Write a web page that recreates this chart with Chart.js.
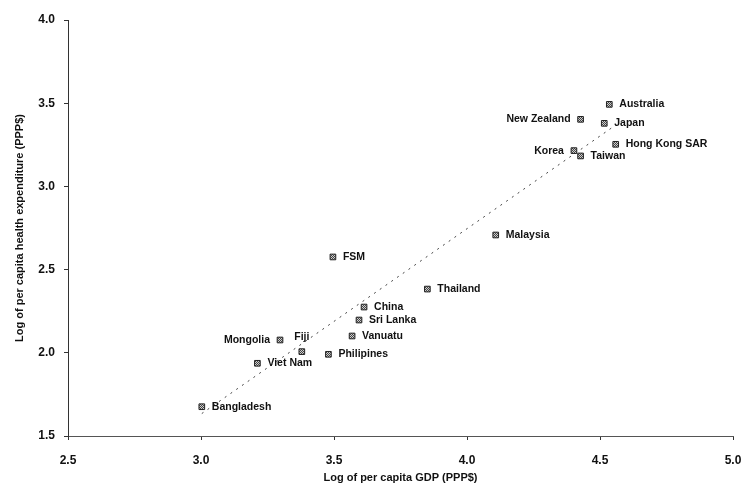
<!DOCTYPE html>
<html>
<head>
<meta charset="utf-8">
<title>Health expenditure vs GDP</title>
<script src="https://cdn.jsdelivr.net/npm/chart.js@4/dist/chart.umd.min.js"></script>
<style>
  html, body { margin: 0; padding: 0; background: #fff; }
  #wrap { width: 743px; height: 491px; }
</style>
</head>
<body>
<div id="wrap"><canvas id="c" width="743" height="491"></canvas></div>
<script>
// Economies plotted (log10 of PPP$ values)
const countries = ['Bangladesh', 'Viet Nam', 'Mongolia', 'Fiji', 'Philipines', 'FSM', 'Vanuatu',
  'Sri Lanka', 'China', 'Thailand', 'Malaysia', 'Korea', 'Taiwan', 'New Zealand', 'Japan',
  'Australia', 'Hong Kong SAR'];
const logGdp = [3.003, 3.212, 3.297, 3.379, 3.479, 3.496, 3.568, 3.594, 3.613, 3.851, 4.108,
  4.402, 4.427, 4.427, 4.516, 4.535, 4.559];
const logHealth = [1.676, 1.937, 2.077, 2.007, 1.991, 2.576, 2.101, 2.197, 2.275, 2.383, 2.708,
  3.215, 3.183, 3.403, 3.379, 3.493, 3.253];
// Where each name sits relative to its marker
const labelSide = ['right', 'right', 'left', 'top', 'right', 'right', 'right', 'right', 'right',
  'right', 'right', 'left', 'right', 'left', 'right', 'right', 'right'];
const xTicks = [2.5, 3.0, 3.5, 4.0, 4.5, 5.0];
const yTicks = [1.5, 2.0, 2.5, 3.0, 3.5, 4.0];

// Least-squares linear trend through the points
function linearFit(xs, ys) {
  const n = xs.length;
  const mx = xs.reduce((a, b) => a + b, 0) / n;
  const my = ys.reduce((a, b) => a + b, 0) / n;
  let sxy = 0, sxx = 0;
  for (let i = 0; i < n; i++) { sxy += (xs[i] - mx) * (ys[i] - my); sxx += (xs[i] - mx) ** 2; }
  const slope = sxy / sxx;
  return { slope, intercept: my - slope * mx };
}
const fit = linearFit(logGdp, logHealth);
const xMin = Math.min(...logGdp), xMax = Math.max(...logGdp);
const trendPoints = [xMin, xMax].map(x => ({ x, y: fit.intercept + fit.slope * x }));

// Small hatched fill for the square markers
function markerPattern() {
  const p = document.createElement('canvas');
  p.width = 2; p.height = 2;
  const g = p.getContext('2d');
  g.fillStyle = '#cfcfcf'; g.fillRect(0, 0, 2, 2);
  g.fillStyle = '#444'; g.fillRect(0, 0, 1, 1); g.fillRect(1, 1, 1, 1);
  return g.createPattern(p, 'repeat');
}

const FONT = '"Liberation Sans", Arial, sans-serif';

const nameLabels = {
  id: 'nameLabels',
  afterDatasetsDraw(chart) {
    const meta = chart.getDatasetMeta(0);
    const ctx = chart.ctx;
    ctx.save();
    ctx.font = 'bold 10.5px ' + FONT;
    ctx.fillStyle = '#111';
    meta.data.forEach((pt, i) => {
      const side = labelSide[i];
      if (side === 'left') {
        ctx.textAlign = 'right'; ctx.textBaseline = 'middle';
        ctx.fillText(countries[i], pt.x - 10, pt.y);
      } else if (side === 'top') {
        ctx.textAlign = 'center'; ctx.textBaseline = 'middle';
        ctx.fillText(countries[i], pt.x, pt.y - 15);
      } else {
        ctx.textAlign = 'left'; ctx.textBaseline = 'middle';
        ctx.fillText(countries[i], pt.x + 10, pt.y);
      }
    });
    ctx.restore();
  }
};

new Chart(document.getElementById('c'), {
  type: 'scatter',
  data: {
    datasets: [
      {
        label: 'Economies',
        data: logGdp.map((x, i) => ({ x, y: logHealth[i] })),
        pointStyle: 'rect',
        pointRadius: 4,
        pointHoverRadius: 4,
        backgroundColor: markerPattern(),
        borderColor: '#222',
        borderWidth: 1
      },
      {
        label: 'Linear trend',
        type: 'line',
        data: trendPoints,
        showLine: true,
        pointRadius: 0,
        borderColor: '#444',
        borderWidth: 1,
        borderDash: [2, 5],
        fill: false
      }
    ]
  },
  options: {
    responsive: false,
    animation: false,
    events: [],
    layout: { padding: { left: 0, right: 10, top: 20, bottom: 0 } },
    plugins: { legend: { display: false }, tooltip: { enabled: false } },
    scales: {
      x: {
        type: 'linear',
        min: xTicks[0],
        max: xTicks[xTicks.length - 1],
        afterBuildTicks: s => { s.ticks = xTicks.map(v => ({ value: v })); },
        afterFit: s => { s.height = 55; s.paddingRight = 0; },
        grid: { drawOnChartArea: false, drawTicks: true, tickLength: 4, color: '#333', lineWidth: 1 },
        border: { display: true, color: '#555', width: 1 },
        ticks: {
          padding: 13,
          color: '#111',
          font: { family: FONT, size: 12, weight: 'bold' },
          callback: v => Number(v).toFixed(1)
        },
        title: {
          display: true,
          text: 'Log of per capita GDP (PPP$)',
          color: '#111',
          font: { family: FONT, size: 11, weight: 'bold' },
          padding: { top: 0, bottom: 6 }
        }
      },
      y: {
        type: 'linear',
        min: yTicks[0],
        max: yTicks[yTicks.length - 1],
        afterBuildTicks: s => { s.ticks = yTicks.map(v => ({ value: v })); },
        afterFit: s => { s.width = 68; },
        grid: { drawOnChartArea: false, drawTicks: true, tickLength: 4, color: '#333', lineWidth: 1 },
        border: { display: true, color: '#333', width: 1 },
        ticks: {
          padding: 9,
          color: '#111',
          font: { family: FONT, size: 12, weight: 'bold' },
          callback: v => Number(v).toFixed(1)
        },
        title: {
          display: true,
          text: 'Log of per capita health expenditure (PPP$)',
          color: '#111',
          font: { family: FONT, size: 11, weight: 'bold' },
          padding: { top: 13, bottom: 0 }
        }
      }
    }
  },
  plugins: [nameLabels]
});
</script>
</body>
</html>
